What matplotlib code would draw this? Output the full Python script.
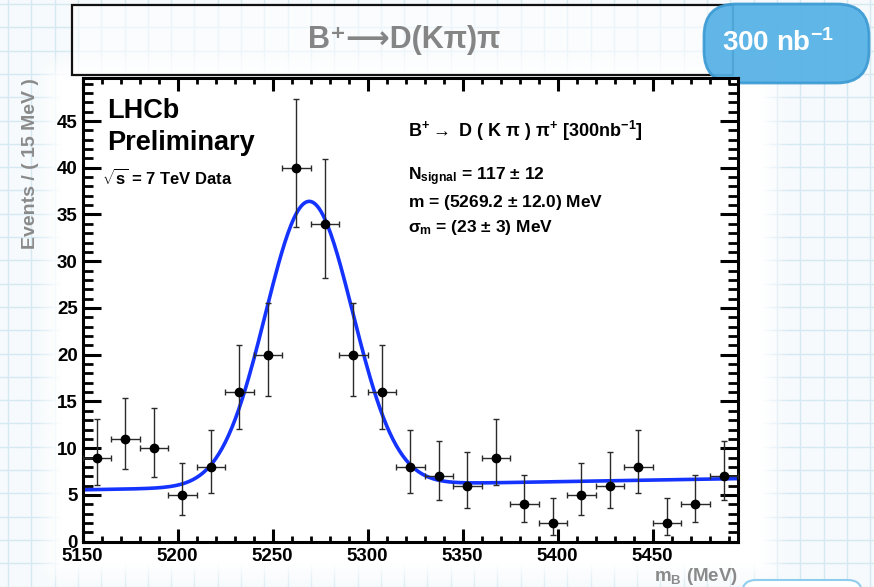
import numpy as np
import matplotlib
matplotlib.use("Agg")
import matplotlib.pyplot as plt
from matplotlib.patches import Rectangle, FancyBboxPatch
from matplotlib.ticker import MultipleLocator

plt.rcParams["font.family"] = ["Liberation Sans", "DejaVu Sans"]
plt.rcParams["font.weight"] = "bold"
plt.rcParams["axes.labelweight"] = "bold"
plt.rcParams["mathtext.fontset"] = "custom"
plt.rcParams["mathtext.rm"] = "Liberation Sans:bold"
plt.rcParams["mathtext.it"] = "Liberation Sans:bold"
plt.rcParams["mathtext.bf"] = "Liberation Sans:bold"

# binned B+ -> D(K pi) pi candidates, 15 MeV bins
bin_centers = [5157.5, 5172.5, 5187.5, 5202.5, 5217.5, 5232.5, 5247.5, 5262.5,
               5277.5, 5292.5, 5307.5, 5322.5, 5337.5, 5352.5, 5367.5, 5382.5,
               5397.5, 5412.5, 5427.5, 5442.5, 5457.5, 5472.5, 5487.5]
counts = [9, 11, 10, 5, 8, 16, 20, 40, 34, 20, 16, 8, 7, 6, 9, 4, 2, 5, 6, 8, 2, 4, 7]
err_lo = [2.95, 3.27, 3.11, 2.16, 2.77, 3.96, 4.43, 6.30, 5.80, 4.43, 3.96, 2.77,
          2.58, 2.38, 2.95, 1.91, 1.29, 2.16, 2.38, 2.77, 1.29, 1.91, 2.58]
err_hi = [4.11, 4.42, 4.27, 3.38, 3.95, 5.09, 5.55, 7.38, 6.90, 5.55, 5.09, 3.95,
          3.77, 3.58, 4.11, 3.16, 2.64, 3.38, 3.58, 3.95, 2.64, 3.16, 3.77]
bin_width = 15.0

# fit result: gaussian signal on a linear background
n_signal = 117
mass = 5269.2
sigma_m = 23.0
bkg_left = 5.55   # background level at 5150 MeV
bkg_right = 6.75  # background level at 5495 MeV

x_min, x_max = 5150, 5495
y_min, y_max = 0, 49.6

W, H = 874, 587
fig = plt.figure(figsize=(W / 100, H / 100), dpi=100)
fig.patch.set_facecolor("#f6fafc")

# ----- slide background: squared paper with a white glow behind the plot -----
bg = fig.add_axes([0, 0, 1, 1], zorder=-10)
bg.axis("off")
step = 23.3
for gx in np.arange(8, W, step):
    bg.axvline(gx, color="#d6e9f2", lw=1.0, zorder=0)
for gy in np.arange(4, H, step):
    bg.axhline(gy, color="#d6e9f2", lw=1.0, zorder=0)

yy, xx = np.mgrid[0:H, 0:W]
fade = 28.0
dx = np.maximum(np.maximum(62 - xx, xx - 760), 0) / fade
dy = np.maximum(np.maximum(78 - yy, yy - 562), 0) / fade
alpha = np.clip(1 - np.hypot(dx, dy), 0, 1)
glow = np.ones((H, W, 4))
glow[..., 3] = alpha
bg.imshow(glow, extent=(0, W, H, 0), zorder=1, interpolation="bilinear")
bg.set_xlim(0, W)
bg.set_ylim(H, 0)

# title box
bg.add_patch(Rectangle((72, 5), 661, 70, facecolor="white", alpha=0.55,
                       edgecolor="none", zorder=2))
bg.add_patch(Rectangle((72, 5), 661, 70, facecolor="none",
                       edgecolor="#111111", lw=1.6, zorder=3))
bg.text(404, 40, "B⁺⟶D(Kπ)π", color="#858585", fontsize=22,
        fontweight="bold", ha="center", va="center", zorder=4)

# luminosity badge
bg.add_patch(FancyBboxPatch((704, 4), 165, 79,
                            boxstyle="round,pad=0,rounding_size=32",
                            facecolor="#55b1e6", edgecolor="#3d9bd3",
                            lw=2, alpha=0.93, zorder=5))
bg.text(778, 43, "300 nb$^{-1}$", color="white", fontsize=20,
        ha="center", va="center", zorder=6)
bg.add_patch(FancyBboxPatch((742, 580), 120, 40,
                            boxstyle="round,pad=0,rounding_size=14",
                            facecolor="white", edgecolor="#8fcdef",
                            lw=1.5, zorder=5))

# ----- mass plot -----
left, right, bottom, top = 82.7, 738.0, 541.7, 78.0
ax = fig.add_axes([left / W, 1 - bottom / H, (right - left) / W, (bottom - top) / H])
ax.set_facecolor("white")

xs = np.linspace(x_min, x_max, 400)
background = bkg_left + (bkg_right - bkg_left) * (xs - x_min) / (x_max - x_min)
signal = n_signal * bin_width / (sigma_m * np.sqrt(2 * np.pi)) * np.exp(-0.5 * ((xs - mass) / sigma_m) ** 2)
ax.plot(xs, background + signal, color="#1433ff", lw=2.6, zorder=2)

ax.errorbar(bin_centers, counts, xerr=bin_width / 2, yerr=[err_lo, err_hi],
            fmt="o", color="black", ms=6, ecolor="#2a2a2a", elinewidth=1.0,
            capsize=2.5, capthick=1.0, zorder=3)

ax.set_xlim(x_min, x_max)
ax.set_ylim(y_min, y_max)
ax.xaxis.set_major_locator(MultipleLocator(50))
ax.xaxis.set_minor_locator(MultipleLocator(10))
ax.yaxis.set_major_locator(MultipleLocator(5))
ax.yaxis.set_minor_locator(MultipleLocator(1))
for s in ax.spines.values():
    s.set_linewidth(2.2)
ax.tick_params(axis="both", which="both", direction="in", top=True, right=True,
               labelsize=13.5, colors="black")
ax.tick_params(axis="y", which="major", length=13, width=2.2, pad=3.5)
ax.tick_params(axis="y", which="minor", length=7, width=2.0)
ax.tick_params(axis="x", which="major", length=9.5, width=2.2, pad=4.5)
ax.tick_params(axis="x", which="minor", length=4.5, width=2.0)
for lbl in ax.get_xticklabels() + ax.get_yticklabels():
    lbl.set_fontweight("bold")

ax.set_ylabel("Events / ( 15 MeV )", color="#8a8a8a", fontsize=14,
              fontweight="bold", loc="top")
ax.yaxis.set_label_coords(-0.066, 1.0)
ax.set_xlabel("m$_{B}$ (MeV)", color="#8a8a8a", fontsize=13.5,
              fontweight="bold", loc="right")
ax.xaxis.set_label_coords(1.0, -0.052)

ax.text(0.037, 0.914, "LHCb", transform=ax.transAxes, fontsize=19.5,
        va="baseline", ha="left")
ax.text(0.037, 0.845, "Preliminary", transform=ax.transAxes, fontsize=19.5,
        va="baseline", ha="left")
ax.text(0.029, 0.769, r"$\sqrt{s}$ = 7 TeV Data", transform=ax.transAxes,
        fontsize=12, va="baseline", ha="left")

ax.text(0.496, 0.873, r"B$^{+}\rightarrow$ D ( K $\pi$ ) $\pi^{+}$ [300nb$^{-1}$]",
        transform=ax.transAxes, fontsize=13, va="baseline", ha="left")
ax.text(0.496, 0.780, r"N$_{signal}$ = 117 $\pm$ 12",
        transform=ax.transAxes, fontsize=12.5, va="baseline", ha="left")
ax.text(0.496, 0.722, r"m = (5269.2 $\pm$ 12.0) MeV",
        transform=ax.transAxes, fontsize=12.5, va="baseline", ha="left")
ax.text(0.496, 0.667, r"$\sigma_{m}$ = (23 $\pm$ 3) MeV",
        transform=ax.transAxes, fontsize=12.5, va="baseline", ha="left")

fig.savefig("out.png", dpi=100, facecolor=fig.get_facecolor())
